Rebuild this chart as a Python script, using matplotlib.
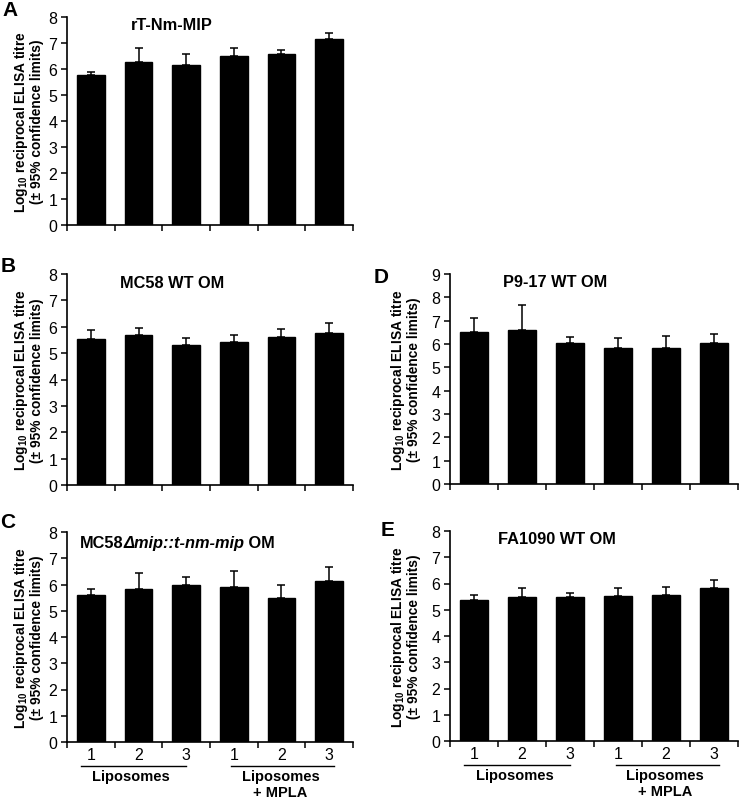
import matplotlib
matplotlib.use("Agg")
import matplotlib.pyplot as plt
import matplotlib.transforms as mtransforms
import numpy as np

plt.rcParams['font.family'] = ['Liberation Sans', 'DejaVu Sans']
plt.rcParams['mathtext.fontset'] = 'custom'
plt.rcParams['mathtext.rm'] = 'Liberation Sans'
plt.rcParams['mathtext.bf'] = 'Liberation Sans:bold'

groups = ["1", "2", "3", "1", "2", "3"]

a_mean = [5.78, 6.28, 6.14, 6.49, 6.56, 7.14]
a_upper = [5.90, 6.81, 6.58, 6.82, 6.72, 7.38]
b_mean = [5.53, 5.67, 5.32, 5.44, 5.63, 5.77]
b_upper = [5.87, 5.95, 5.56, 5.68, 5.91, 6.13]
c_mean = [5.59, 5.83, 5.99, 5.90, 5.49, 6.14]
c_upper = [5.81, 6.45, 6.27, 6.51, 5.97, 6.68]
d_mean = [6.51, 6.60, 6.03, 5.83, 5.83, 6.03]
d_upper = [7.10, 7.69, 6.30, 6.26, 6.34, 6.41]
e_mean = [5.37, 5.47, 5.50, 5.52, 5.56, 5.82]
e_upper = [5.57, 5.81, 5.64, 5.81, 5.86, 6.14]

W, H = 739, 804
fig = plt.figure(figsize=(W / 100, H / 100), dpi=100)

def rect(left, top, right, bottom):
    return [left / W, 1 - bottom / H, (right - left) / W, (bottom - top) / H]

panels = [
    dict(letter="A", title="rT-Nm-MIP", mean=a_mean, upper=a_upper, ymax=8,
         r=rect(67, 18, 353, 226), tx=0.367, ty=0.965, lab=False, letxy=(10, 10),
         ylx=28),
    dict(letter="B", title="MC58 WT OM", mean=b_mean, upper=b_upper, ymax=8,
         r=rect(67, 275, 353, 486), tx=0.367, ty=0.962, lab=False, letxy=(8, 267),
         ylx=28),
    dict(letter="D", title="P9-17 WT OM", mean=d_mean, upper=d_upper, ymax=9,
         r=rect(450, 275, 738, 485), tx=0.365, ty=0.962, lab=False, letxy=(381, 278),
         ylx=405),
    dict(letter="C", title=None, mean=c_mean, upper=c_upper, ymax=8,
         r=rect(67, 533, 353, 743), tx=0.045, ty=0.95, lab=True, letxy=(8, 523),
         ylx=28),
    dict(letter="E", title="FA1090 WT OM", mean=e_mean, upper=e_upper, ymax=8,
         r=rect(450, 532, 738, 742), tx=0.372, ty=0.965, lab=True, letxy=(388, 531),
         ylx=405),
]

x = np.arange(1, 7)
ylabel = "Log$_{\\mathbf{10}}$ reciprocal ELISA titre\n(± 95% confidence limits)"
TFS = 11.8

for p in panels:
    ax = fig.add_axes(p["r"])
    mean = np.array(p["mean"])
    upper = np.array(p["upper"])
    ax.bar(x, mean, width=0.58, color="black", edgecolor="black", zorder=2)
    ax.errorbar(x, mean, yerr=[np.zeros_like(mean), upper - mean], fmt="none",
                ecolor="black", elinewidth=1.1, capsize=2.6, capthick=1.1, zorder=3)
    ax.set_xlim(0.5, 6.5)
    ax.set_ylim(0, p["ymax"])
    ax.set_yticks(range(0, p["ymax"] + 1))
    for s in ["top", "right"]:
        ax.spines[s].set_visible(False)
    for s in ["left", "bottom"]:
        ax.spines[s].set_linewidth(1.2)
    ax.tick_params(axis="y", direction="out", length=4, width=1.1, pad=3,
                   labelsize=11.5)
    ax.set_xticks(np.arange(0.5, 7.0, 1.0))
    ax.set_xticklabels([])
    ax.tick_params(axis="x", which="major", direction="out", length=4, width=1.1)
    if p["lab"]:
        ax.set_xticks(x, minor=True)
        ax.set_xticklabels(groups, minor=True)
        ax.tick_params(axis="x", which="minor", length=0, pad=3.5, labelsize=11.5)
        trans = mtransforms.blended_transform_factory(ax.transData, ax.transAxes)
        ax.plot([0.8, 3.0], [-0.114, -0.114], color="black", lw=1.0,
                transform=trans, clip_on=False)
        ax.plot([3.95, 6.1], [-0.114, -0.114], color="black", lw=1.0,
                transform=trans, clip_on=False)
        ax.text(1.85, -0.163, "Liposomes", transform=trans, ha="center",
                va="center", fontsize=10.5, fontweight="bold")
        ax.text(4.98, -0.163, "Liposomes", transform=trans, ha="center",
                va="center", fontsize=10.5, fontweight="bold")
        ax.text(4.98, -0.24, "+ MPLA", transform=trans, ha="center",
                va="center", fontsize=10.5, fontweight="bold")
    else:
        ax.set_xticks([], minor=True)

    if p["title"] is not None:
        ax.text(p["tx"], p["ty"], p["title"], transform=ax.transAxes,
                ha="center", va="center", fontsize=TFS, fontweight="bold")
    else:
        t1 = ax.text(p["tx"], p["ty"], "MC58", transform=ax.transAxes,
                     ha="left", va="center", fontsize=TFS, fontweight="bold")
        t2 = ax.annotate("Δmip::t-nm-mip", xycoords=t1, xy=(1, 0), va="bottom",
                         fontsize=TFS, fontweight="bold", style="italic")
        ax.annotate(" OM", xycoords=t2, xy=(1, 0), va="bottom",
                    fontsize=TFS, fontweight="bold")

    pos = ax.get_position()
    yc = (pos.y0 + pos.y1) / 2
    fig.text(p["ylx"] / W, yc, ylabel, rotation=90, ha="center", va="center",
             fontsize=9.9, fontweight="bold", multialignment="center",
             linespacing=1.0)
    fig.text(p["letxy"][0] / W, 1 - p["letxy"][1] / H, p["letter"],
             ha="center", va="center", fontsize=15, fontweight="bold")

fig.savefig("out.png", dpi=100)
